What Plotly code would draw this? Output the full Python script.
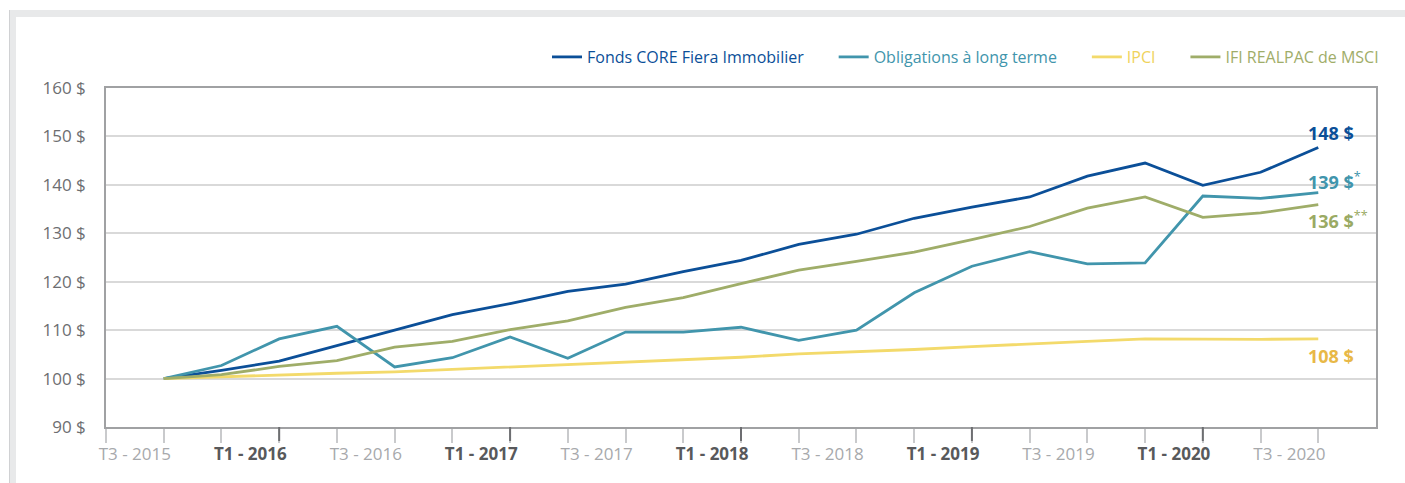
import plotly.graph_objects as go

# ---- data ----
quarters = ["T3 - 2015", "T4 - 2015", "T1 - 2016", "T2 - 2016", "T3 - 2016", "T4 - 2016",
            "T1 - 2017", "T2 - 2017", "T3 - 2017", "T4 - 2017", "T1 - 2018", "T2 - 2018",
            "T3 - 2018", "T4 - 2018", "T1 - 2019", "T2 - 2019", "T3 - 2019", "T4 - 2019",
            "T1 - 2020", "T2 - 2020", "T3 - 2020"]
fonds_core = [100, 101.7, 103.6, 106.8, 110.0, 113.2, 115.5, 118.0, 119.5, 122.1, 124.4,
              127.7, 129.8, 133.1, 135.4, 137.5, 141.8, 144.5, 139.9, 142.6, 147.7]
obligations = [100, 102.7, 108.2, 110.8, 102.4, 104.3, 108.6, 104.2, 109.6, 109.6, 110.6,
               107.9, 110.0, 117.7, 123.2, 126.2, 123.7, 123.9, 137.7, 137.2, 138.4]
ipci = [100, 100.4, 100.8, 101.1, 101.4, 101.9, 102.3, 102.8, 103.3, 103.9, 104.4,
        105.1, 105.5, 106.0, 106.6, 107.2, 107.7, 108.2, 108.1, 108.1, 108.2]
ifi_realpac = [100, 100.8, 102.5, 103.7, 106.5, 107.7, 110.1, 111.9, 114.7, 116.7, 119.6,
               122.4, 124.2, 126.1, 128.7, 131.4, 135.2, 137.5, 133.3, 134.2, 135.9]

series_names = ["Fonds CORE Fiera Immobilier", "Obligations à long terme", "IPCI", "IFI REALPAC de MSCI"]
series_values = [fonds_core, obligations, ipci, ifi_realpac]
line_colors = ["#0b4f98", "#4195ac", "#f3da6b", "#9fad69"]
legend_text_colors = ["#0b4f98", "#4195ac", "#efd35c", "#9fad69"]
# end labels in the same order as the series
end_labels = ["<b>148 $</b>", "<b>139 $</b><sup>*</sup>", "<b>108 $</b>", "<b>136 $</b><sup>**</sup>"]
end_label_colors = ["#0b4f98", "#4195ac", "#e8b847", "#9aaa64"]
end_label_shift = [15, 12, -17, -15]

shown_labels = quarters[0::2]  # T3 / T1 labels every half-year
y_ticks = [90, 100, 110, 120, 130, 140, 150, 160]

FONT = "Open Sans"
x_idx = list(range(len(quarters)))
PAD = "&nbsp;" * 6

fig = go.Figure()
for k, (name, vals, lc, tc) in enumerate(zip(series_names, series_values, line_colors, legend_text_colors)):
    pad = PAD if k < len(series_names) - 1 else ""
    fig.add_trace(go.Scatter(
        x=x_idx, y=vals, mode="lines",
        name=f"<span style='color:{tc}'>{name}</span>{pad}",
        line=dict(color=lc, width=2.8),
        hoverinfo="skip",
    ))

# end-of-line labels
for lab, col, vals, sh in zip(end_labels, end_label_colors, series_values, end_label_shift):
    fig.add_annotation(x=x_idx[-1], y=vals[-1], xref="x", yref="y", text=lab,
                       showarrow=False, xanchor="left", yanchor="middle",
                       xshift=-12, yshift=sh,
                       font=dict(family=FONT, size=18, color=col))

# x tick labels (between ticks), T1 bold dark, T3 light
label_pos = [i - 0.5 for i in x_idx[0::2]]
tick_text = []
for lab in shown_labels:
    if lab.startswith("T1"):
        tick_text.append(f"<span style='color:#58595b'><b>{lab}</b></span>")
    else:
        tick_text.append(f"<span style='color:#a7a9ac'>{lab}</span>")

# darker tick marks at T1 quarters
plot_h = 483 - 88 - 56
for i, q in enumerate(quarters):
    if q.startswith("T1"):
        fig.add_shape(type="line", xref="x", yref="paper", x0=i, x1=i, y0=0, y1=-14 / plot_h,
                      line=dict(color="#6d6e71", width=2), layer="above")

# outer light-grey frame (top and left bands)
plot_w = 1376 - 106
def px_x(px):
    return (px - 106) / plot_w
def px_y(py):
    return (427 - py) / plot_h
fig.add_shape(type="rect", xref="paper", yref="paper", x0=px_x(9), x1=px_x(1405),
              y0=px_y(17), y1=px_y(10), fillcolor="#e8e9ea", line=dict(width=0), layer="below")
fig.add_shape(type="rect", xref="paper", yref="paper", x0=px_x(9), x1=px_x(16),
              y0=px_y(483), y1=px_y(10), fillcolor="#e8e9ea", line=dict(width=0), layer="below")
fig.add_shape(type="line", xref="paper", yref="paper", x0=px_x(9.5), x1=px_x(9.5),
              y0=px_y(483), y1=px_y(10), line=dict(color="#d0d1d3", width=1), layer="below")

fig.update_layout(
    width=1405, height=483,
    margin=dict(l=106, r=29, t=88, b=56),
    paper_bgcolor="white", plot_bgcolor="white",
    font=dict(family=FONT, size=16, color="#6d6e71"),
    showlegend=True,
    legend=dict(orientation="h", x=px_x(1384), xanchor="right", y=px_y(57), yanchor="middle",
                font=dict(family=FONT, size=16), bgcolor="rgba(0,0,0,0)",
                itemwidth=30, tracegroupgap=0),
    xaxis=dict(
        range=[-1, len(quarters)], tickmode="array", tickvals=label_pos, ticktext=tick_text,
        ticks="", showgrid=False, zeroline=False,
        showline=True, linecolor="#a0a1a3", linewidth=1.5, mirror=True,
        tickfont=dict(family=FONT, size=17),
        ticklabelstandoff=11,
        minor=dict(tickmode="array", tickvals=list(range(-1, len(quarters))), ticks="outside",
                   ticklen=14, tickwidth=1.5, tickcolor="#c9cacc", showgrid=False),
    ),
    yaxis=dict(
        range=[90, 160], tickmode="array", tickvals=y_ticks,
        ticktext=[f"{v} $" for v in y_ticks],
        ticks="", showgrid=True, gridcolor="#d9d9d9", gridwidth=1.5, zeroline=False,
        showline=True, linecolor="#a0a1a3", linewidth=1.5, mirror=True,
        tickfont=dict(family=FONT, size=17, color="#6d6e71"),
        ticklabelstandoff=15,
    ),
)

fig.write_html("out.html", config={"displayModeBar": False},
               post_script="document.body.style.margin='0px';document.body.style.overflow='hidden';")
